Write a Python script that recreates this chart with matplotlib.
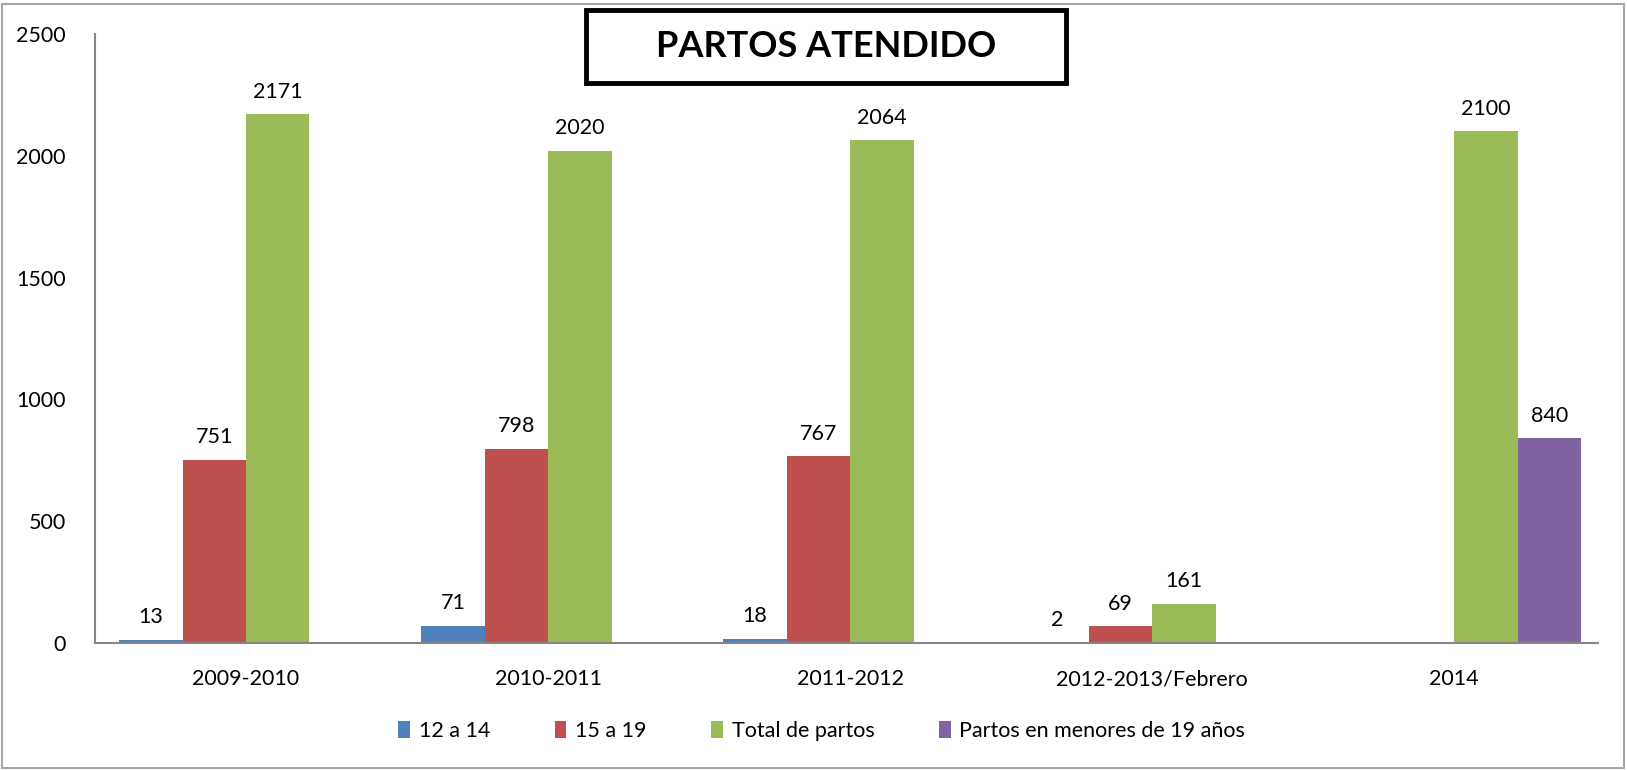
import numpy as np
import matplotlib.pyplot as plt
from matplotlib.patches import Rectangle

plt.rcParams['font.family'] = ['Lato', 'DejaVu Sans']

categorias = ['2009-2010', '2010-2011', '2011-2012', '2012-2013/Febrero', '2014']
edad_12_14 = [13, 71, 18, 2, None]
edad_15_19 = [751, 798, 767, 69, None]
total_partos = [2171, 2020, 2064, 161, 2100]
menores_19 = [None, None, None, None, 840]

series = [
    ('12 a 14', edad_12_14, '#4F81BD'),
    ('15 a 19', edad_15_19, '#C0504D'),
    ('Total de partos', total_partos, '#9BBB59'),
    ('Partos en menores de 19 años', menores_19, '#8064A2'),
]

fig = plt.figure(figsize=(16.27, 7.7), dpi=100)
ax = fig.add_axes([0.0584, 0.165, 0.924, 0.791])

x = np.arange(len(categorias))
w = 0.21
for k, (nombre, vals, color) in enumerate(series):
    h = np.array([np.nan if v is None else v for v in vals], dtype=float)
    pos = x + (k - 1.5) * w
    ax.bar(pos, h, width=w, color=color, label=nombre)
    for xi, v in zip(pos, vals):
        if v is None:
            continue
        ax.annotate(str(v), (xi, v), xytext=(0, 9), textcoords='offset points',
                    ha='center', va='bottom', fontsize=15.5)

ax.set_xlim(-0.5, 4.477)
ax.set_ylim(0, 2500)
ax.set_yticks(range(0, 2501, 500))
ax.set_xticks(x)
ax.set_xticklabels(categorias)
ax.tick_params(axis='both', length=0, labelsize=15.5)
ax.tick_params(axis='y', pad=21)
ax.tick_params(axis='x', pad=19)
for s in ['top', 'right']:
    ax.spines[s].set_visible(False)
for s in ['left', 'bottom']:
    ax.spines[s].set_color('#868686')
    ax.spines[s].set_linewidth(1.5)

# titulo en recuadro
fig.patches.append(Rectangle((0.360, 0.892), 0.295, 0.095, transform=fig.transFigure,
                             fill=True, facecolor='white', edgecolor='black', linewidth=3.5))
fig.text(0.508, 0.940, 'PARTOS ATENDIDO', ha='center', va='center',
         fontsize=26, fontweight='bold')

fig.legend(loc='center', bbox_to_anchor=(0.505, 0.051), ncol=4, frameon=False,
           fontsize=15.5, handlelength=0.55, handleheight=0.9, handletextpad=0.4,
           columnspacing=3.0)

# borde exterior
fig.patches.append(Rectangle((0.001, 0.002), 0.997, 0.993, transform=fig.transFigure,
                             fill=False, edgecolor='#A6A6A6', linewidth=1.5))

fig.savefig('out.png', dpi=100)
